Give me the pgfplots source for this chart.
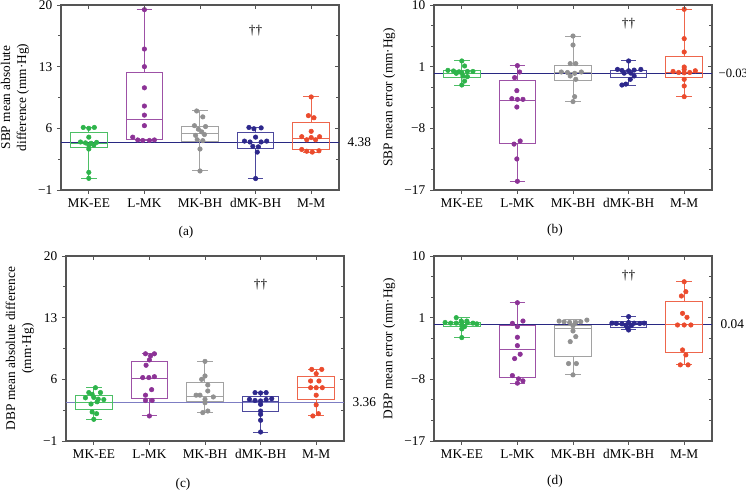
\documentclass[border=0pt]{standalone}
\usepackage{fontspec}
\setmainfont{Liberation Serif}
\usepackage{pgfplots}
\pgfplotsset{compat=1.18}
\usepgfplotslibrary{statistics}

\definecolor{cg}{RGB}{46,180,75}
\definecolor{cp}{RGB}{140,50,150}
\definecolor{cgr}{RGB}{145,145,145}
\definecolor{cn}{RGB}{45,40,140}
\definecolor{cr}{RGB}{235,75,45}
\definecolor{cref}{RGB}{40,40,130}
\definecolor{crefc}{RGB}{125,125,195}
\definecolor{frame}{RGB}{85,85,85}

\pgfplotsset{
  base/.style={scale only axis, width=208.5pt, height=138.75pt,
    xmin=0.5, xmax=5.5, xtick={1,2,3,4,5}, clip=false,
    axis line style={draw=frame, line width=0.8pt},
    major tick length=3pt, minor tick length=2pt,
    tick style={draw=frame, line width=0.7pt}},
  main/.style={base, xtick pos=left, ytick pos=left, tick align=outside,
    xticklabels={MK-EE,L-MK,MK-BH,dMK-BH,M-M},
    tick label style={font=\fontsize{10}{12}\selectfont},
    ylabel style={font=\fontsize{10}{12}\selectfont, align=center}},
  pts/.style={only marks, mark=*, mark size=1.7pt},
}

% draw colour, position, lower whisker, lower quartile, median, upper quartile, upper whisker
\newcommand{\bx}[7]{\addplot[draw=#1!85!white, line width=0.75pt,
  boxplot prepared={draw direction=y, draw position=#2, lower whisker=#3, lower quartile=#4,
  median=#5, upper quartile=#6, upper whisker=#7,
  box extend=0.66, whisker extend=0.28}] coordinates {};}

% inside ticks on the top and right edges
\newcommand{\mirror}[5]{%
\begin{axis}[base, at={#1}, anchor=south west, ymin=#2, ymax=#3,
  ytick={#4}, minor y tick num=#5, xtick pos=right, ytick pos=right,
  tick align=inside, xticklabels={}, yticklabels={}, axis line style={draw=none}]
\end{axis}}

\begin{document}
\begin{tikzpicture}
\path[use as bounding box] (0,0) rectangle (559.5pt,376.5pt);

% ---------------- (a)
\begin{axis}[main, at={(45.75pt,234pt)}, anchor=south west,
  ymin=-1, ymax=20, ytick={-1,6,13,20}, yticklabels={−1,6,13,20},
  minor y tick num=1,
  ylabel={SBP mean absolute\\difference (mm·Hg)}]
\addplot[cref, line width=0.8pt] coordinates {(0.5,4.38) (5.5,4.38)};
\bx{cg}{1}{0.32}{3.81}{4.3}{5.47}{6.1}
\bx{cp}{2}{4.6}{4.68}{6.98}{12.36}{19.47}
\bx{cgr}{3}{1.16}{4.56}{5.36}{6.19}{7.97}
\bx{cn}{4}{0.29}{3.73}{4.4}{5.5}{6.1}
\bx{cr}{5}{3.28}{3.62}{4.87}{6.68}{9.56}
\addplot[pts, cg] coordinates {(0.9,6.1) (1.0,6.0) (1.1,6.1) (1.0,5.0) (0.85,4.45)
  (0.94,4.35) (1.04,4.3) (1.14,4.4) (1.0,4.1) (1.09,4.1) (1.0,3.65) (1.0,1.0) (1.0,0.32)};
\addplot[pts, cp] coordinates {(2,19.47) (2,15.0) (2,13.0) (2,10.6) (2,8.53) (2,7.5)
  (2,6.3) (1.79,5.0) (1.88,4.68) (1.97,4.62) (2.09,4.62) (2.18,4.68)};
\addplot[pts, cgr] coordinates {(2.94,7.97) (3.05,7.3) (2.9,6.3) (3.1,6.2) (2.97,5.9)
  (3.03,5.6) (2.92,5.2) (3.08,5.3) (2.95,4.7) (3.05,4.6) (3.0,3.65) (3.0,1.16)};
\addplot[pts, cn] coordinates {(3.88,6.1) (3.97,5.95) (4.1,6.05) (4.0,5.0) (3.8,4.55)
  (3.9,4.45) (4.1,4.45) (4.2,4.55) (3.95,3.95) (4.05,3.9) (4.03,3.3) (4.0,0.3)};
\addplot[pts, cr] coordinates {(5.0,9.56) (4.95,7.44) (5.05,7.2) (5.0,5.66) (4.83,5.05)
  (5.15,5.05) (5.0,4.95) (4.92,4.7) (5.08,4.7) (4.83,3.6) (4.92,3.4) (5.02,3.3) (5.14,3.45)};
\node[font=\fontsize{10}{12}\selectfont] at (axis cs:4,17.1) {††};
\node[anchor=west, font=\fontsize{10}{12}\selectfont, xshift=3pt] at (axis cs:5.5,4.38) {4.38};
\end{axis}
\mirror{(45.75pt,234pt)}{-1}{20}{-1,6,13,20}{1}

% ---------------- (b)
\begin{axis}[main, at={(325.5pt,234pt)}, anchor=south west,
  ymin=-17, ymax=10, ytick={-17,-8,1,10}, yticklabels={−17,−8,1,10},
  minor y tick num=2,
  ylabel={SBP mean error (mm·Hg)}]
\addplot[cref, line width=0.8pt] coordinates {(0.5,-0.03) (5.5,-0.03)};
\bx{cg}{1}{-1.68}{-0.56}{-0.07}{0.37}{1.83}
\bx{cp}{2}{-15.73}{-10.19}{-3.91}{-1.04}{1.15}
\bx{cgr}{3}{-4.1}{-0.99}{0.08}{1.24}{5.47}
\bx{cn}{4}{-1.68}{-0.56}{0.03}{0.46}{1.83}
\bx{cr}{5}{-3.38}{-0.65}{0.12}{2.46}{9.37}
\addplot[pts, cg] coordinates {(1.0,1.83) (1.05,1.1) (0.75,0.46) (0.85,0.37) (0.95,0.25)
  (1.1,0.3) (1.2,0.3) (0.9,0.03) (1.0,0.1) (1.02,-0.36) (1.1,-0.45) (1.05,-1.1) (1.0,-1.68)};
\addplot[pts, cp] coordinates {(2,1.15) (2.04,0.22) (1.95,-0.6) (1.99,-2.5) (1.9,-3.67)
  (2.0,-3.77) (2.1,-3.77) (1.99,-4.89) (2.05,-9.85) (1.94,-10.3) (1.99,-12.47) (2.0,-15.73)};
\addplot[pts, cgr] coordinates {(3.0,5.47) (3.0,4.16) (2.95,1.44) (3.05,1.44) (2.79,0.22)
  (2.9,0.15) (3.03,0.03) (3.15,0.22) (2.95,-0.36) (3.05,-0.85) (3.03,-3.38) (3.0,-4.1)};
\addplot[pts, cn] coordinates {(4.0,1.83) (3.8,0.6) (3.88,0.45) (4.0,0.4) (4.1,0.5)
  (4.22,0.6) (3.92,0.05) (4.04,0.05) (4.1,-0.36) (4.03,-0.85) (3.95,-1.55) (3.88,-1.68)};
\addplot[pts, cr] coordinates {(5.0,9.37) (5.0,5.09) (5.0,3.14) (5.0,0.95) (5.0,0.6)
  (4.8,0.3) (4.9,0.15) (5.0,0.1) (5.1,0.15) (5.2,0.4) (5.0,-0.85) (5.0,-1.82) (5.0,-3.38)};
\node[font=\fontsize{10}{12}\selectfont] at (axis cs:4,7.3) {††};
\node[anchor=west, font=\fontsize{9.5}{12}\selectfont, xshift=1.5pt] at (axis cs:5.5,-0.03) {−0.03};
\end{axis}
\mirror{(325.5pt,234pt)}{-17}{10}{-17,-8,1,10}{2}

% ---------------- (c)
\begin{axis}[main, at={(49.5pt,45.75pt)}, anchor=south west,
  ymin=-1, ymax=20, ytick={-1,6,13,20}, yticklabels={−1,6,13,20},
  minor y tick num=1,
  ylabel={DBP mean absolute difference\\(mm·Hg)}]
\addplot[crefc, line width=1.2pt] coordinates {(0.5,3.36) (5.5,3.36)};
\bx{cg}{1}{1.46}{2.59}{3.35}{4.18}{5.05}
\bx{cp}{2}{1.84}{3.8}{6.08}{8.04}{8.91}
\bx{cgr}{3}{2.22}{3.47}{4.03}{5.62}{8.04}
\bx{cn}{4}{0.02}{2.4}{3.47}{4.0}{4.49}
\bx{cr}{5}{1.84}{3.73}{5.05}{6.3}{7.13}
\addplot[pts, cg] coordinates {(1.03,5.05) (0.91,4.5) (1.12,4.5) (0.97,4.3) (0.85,3.9)
  (1.0,3.95) (1.08,3.75) (1.18,3.7) (0.95,3.2) (1.06,3.45) (0.97,2.3) (1.05,2.1) (1.0,1.46)};
\addplot[pts, cp] coordinates {(1.93,8.9) (2.09,8.9) (2.02,8.65) (2.0,8.2) (1.94,7.6)
  (1.88,6.2) (1.99,6.2) (2.09,6.3) (2.04,4.83) (1.93,4.2) (1.93,3.6) (2.05,3.6) (2.0,1.84)};
\addplot[pts, cgr] coordinates {(3.0,8.04) (3.0,6.38) (2.94,6.0) (3.05,5.36) (3.05,4.68)
  (2.84,4.2) (2.91,4.2) (3.15,4.0) (3.0,3.73) (3.0,3.35) (3.05,2.4) (2.96,2.22)};
\addplot[pts, cn] coordinates {(3.9,4.49) (4.0,4.45) (4.1,4.49) (3.8,3.73) (3.9,3.6)
  (4.0,3.55) (4.1,3.7) (4.2,3.8) (4.0,3.16) (4.0,2.4) (4.0,2.03) (4.0,1.35) (4.0,0.02)};
\addplot[pts, cr] coordinates {(4.92,7.13) (5.1,7.13) (5.0,6.64) (4.9,5.81) (5.05,5.81)
  (4.9,5.05) (5.0,5.05) (5.11,5.05) (5.0,4.2) (5.0,3.1) (5.04,2.1) (4.94,1.84)};
\node[font=\fontsize{10}{12}\selectfont] at (axis cs:4,16.8) {††};
\node[anchor=west, font=\fontsize{10}{12}\selectfont, xshift=3pt] at (axis cs:5.5,3.36) {3.36};
\end{axis}
\mirror{(49.5pt,45.75pt)}{-1}{20}{-1,6,13,20}{1}

% ---------------- (d)
\begin{axis}[main, at={(325.5pt,45.75pt)}, anchor=south west,
  ymin=-17, ymax=10, ytick={-17,-8,1,10}, yticklabels={−17,−8,1,10},
  minor y tick num=2,
  ylabel={DBP mean error (mm·Hg)}]
\addplot[cref, line width=0.8pt] coordinates {(0.5,0.04) (5.5,0.04)};
\bx{cg}{1}{-1.91}{-0.31}{-0.07}{0.32}{1.0}
\bx{cp}{2}{-8.56}{-7.69}{-3.71}{-0.12}{3.18}
\bx{cgr}{3}{-7.35}{-4.73}{-0.65}{-0.17}{0.66}
\bx{cn}{4}{-0.8}{-0.41}{0.08}{0.42}{1.15}
\bx{cr}{5}{-5.9}{-4.1}{-0.07}{3.33}{6.24}
\addplot[pts, cg] coordinates {(0.9,1.0) (0.99,0.51) (1.09,0.51) (0.7,0.3) (0.8,0.2)
  (0.9,0.2) (1.0,0.3) (1.1,0.25) (1.2,0.2) (1.27,0.1) (1.0,-0.07) (1.05,-0.31) (1.0,-0.65) (1.0,-1.91)};
\addplot[pts, cp] coordinates {(2.0,3.18) (2.1,0.51) (1.91,0.17) (2.0,-0.31) (2.0,-1.86)
  (2.0,-3.08) (2.05,-4.34) (1.95,-4.97) (1.91,-7.45) (2.02,-7.93) (2.1,-8.22) (2.0,-8.56)};
\addplot[pts, cgr] coordinates {(2.75,0.5) (2.84,0.4) (2.94,0.3) (3.05,0.3) (3.14,0.4)
  (3.25,0.65) (3.0,-0.17) (3.0,-0.94) (3.05,-1.77) (2.95,-2.5) (2.92,-5.7) (3.06,-5.7) (3.0,-7.35)};
\addplot[pts, cn] coordinates {(4.0,1.15) (3.7,0.2) (3.78,0.15) (3.88,0.1) (4.0,0.3)
  (4.1,0.2) (4.2,0.15) (4.28,0.2) (3.95,-0.1) (4.05,-0.15) (3.98,-0.45) (4.0,-0.8)};
\addplot[pts, cr] coordinates {(5.0,6.24) (5.03,4.79) (4.95,4.16) (4.97,1.63) (5.05,1.05)
  (4.88,-0.07) (5.0,-0.07) (5.12,-0.07) (4.97,-3.71) (5.03,-4.44) (4.93,-5.89) (5.07,-5.89)};
\node[font=\fontsize{10}{12}\selectfont] at (axis cs:4,7.2) {††};
\node[anchor=west, font=\fontsize{10}{12}\selectfont, xshift=3pt] at (axis cs:5.5,0.04) {0.04};
\end{axis}
\mirror{(325.5pt,45.75pt)}{-17}{10}{-17,-8,1,10}{2}

\node[font=\fontsize{10}{12}\selectfont] at (139.5pt,202.5pt) {(a)};
\node[font=\fontsize{10}{12}\selectfont] at (416.25pt,204pt) {(b)};
\node[font=\fontsize{10}{12}\selectfont] at (137.25pt,13.5pt) {(c)};
\node[font=\fontsize{10}{12}\selectfont] at (416.25pt,15.75pt) {(d)};
\end{tikzpicture}
\end{document}
